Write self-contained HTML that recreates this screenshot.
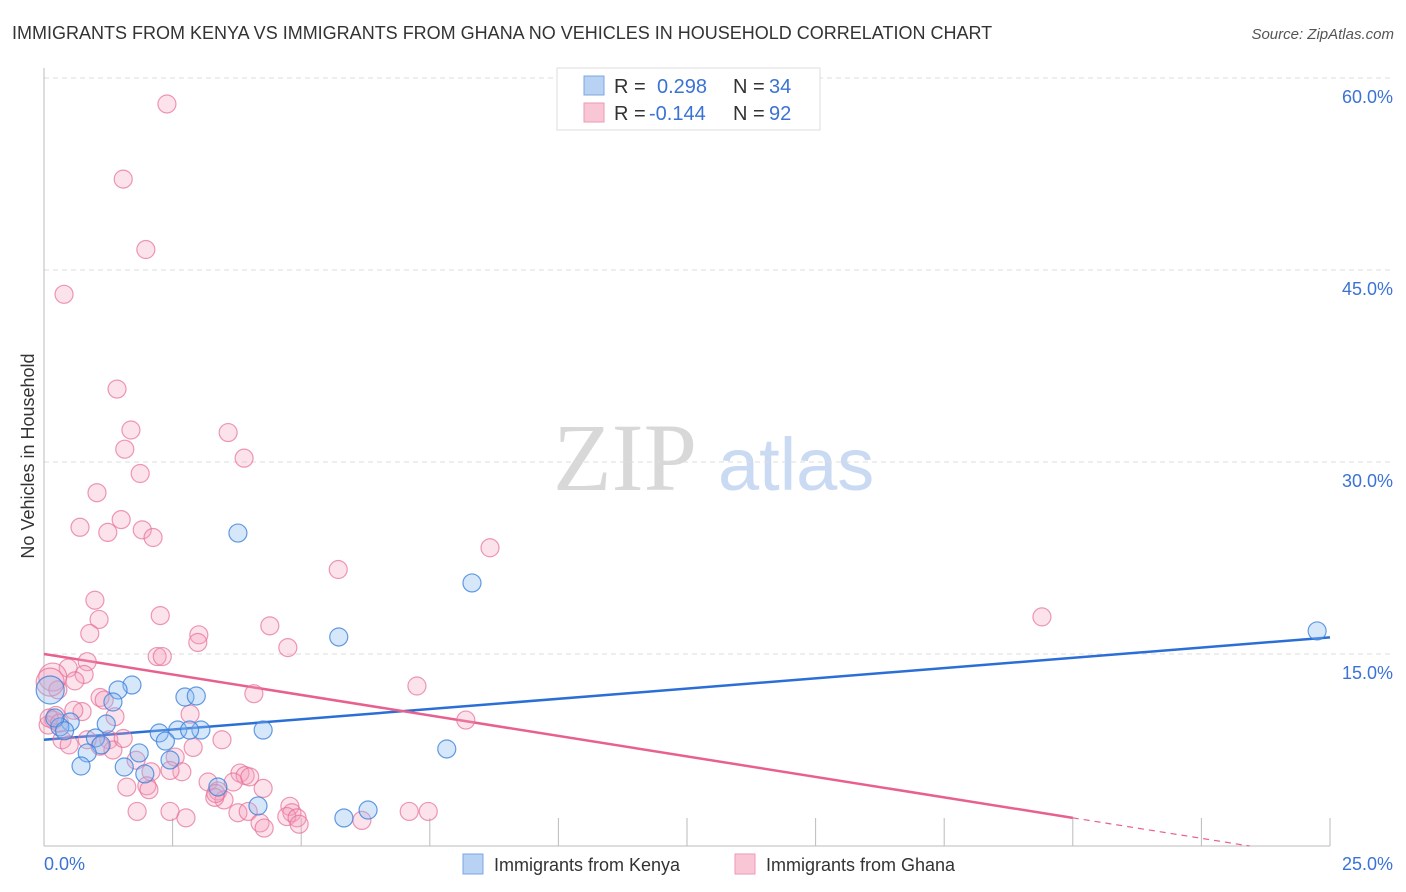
<!DOCTYPE html>
<html><head><meta charset="utf-8">
<style>
body{margin:0;background:#fff;font-family:"Liberation Sans",sans-serif;}
svg{display:block}
</style></head>
<body>
<svg id="chart" width="1406" height="892" viewBox="0 0 1406 892">
<text x="12" y="39" font-size="18" fill="#333">IMMIGRANTS FROM KENYA VS IMMIGRANTS FROM GHANA NO VEHICLES IN HOUSEHOLD CORRELATION CHART</text>
<text x="1394" y="39" font-size="15" fill="#555" font-style="italic" text-anchor="end">Source: ZipAtlas.com</text>
<text transform="translate(34,456) rotate(-90)" font-size="18" fill="#333" text-anchor="middle">No Vehicles in Household</text>
<g>
<text x="553" y="490" font-family="Liberation Serif,serif" font-size="96" fill="#d8d8d8">ZIP</text>
<text x="718" y="490" font-size="74" fill="#c9daf2">atlas</text>
</g>
<g id="grid"></g>
<g id="axes"></g>
<g id="trend"></g>
<g id="pts"></g>
<g>
<rect x="557" y="68" width="263" height="62" fill="#fff" stroke="#ddd"/>
<rect x="584" y="76" width="20" height="19" fill="#b8d2f3" stroke="#7ba7e2"/>
<rect x="584" y="103" width="20" height="19" fill="#f9c6d6" stroke="#ec9ab4"/>
<text x="614" y="93" font-size="20" fill="#333">R =</text>
<text x="657" y="93" font-size="20" fill="#3a73d4">0.298</text>
<text x="733" y="93" font-size="20" fill="#333">N =</text>
<text x="769" y="93" font-size="20" fill="#3a73d4">34</text>
<text x="614" y="120" font-size="20" fill="#333">R =</text>
<text x="649" y="120" font-size="20" fill="#3a73d4">-0.144</text>
<text x="733" y="120" font-size="20" fill="#333">N =</text>
<text x="769" y="120" font-size="20" fill="#3a73d4">92</text>
</g>
<g>
<rect x="463" y="854" width="20" height="20" fill="#b8d2f3" stroke="#7ba7e2"/>
<text x="494" y="871" font-size="18" fill="#333">Immigrants from Kenya</text>
<rect x="735" y="854" width="20" height="20" fill="#f9c6d6" stroke="#ec9ab4"/>
<text x="766" y="871" font-size="18" fill="#333">Immigrants from Ghana</text>
</g>
</svg>
<script>
const yTicks=[15,30,45,60];
const yTickLabels=["15.0%","30.0%","45.0%","60.0%"];
const xTicks=[2.5,5,7.5,10,12.5,15,17.5,20,22.5,25];
const kenyaX=[3.77,8.32,5.73,24.75,1.71,1.44,2.74,2.96,1.34,1.21,0.51,0.31,2.6,3.05,2.83,4.26,2.24,2.36,1.0,1.11,1.85,0.84,0.72,1.56,2.45,1.96,3.38,7.83,4.16,5.83,6.3,0.21,0.12,0.4];
const kenyaY=[24.45,20.55,16.33,16.8,12.58,12.19,11.64,11.72,11.25,9.53,9.69,9.3,9.06,9.06,9.06,9.06,8.83,8.2,8.44,7.9,7.27,7.27,6.25,6.17,6.72,5.63,4.61,7.58,3.13,2.19,2.81,10.0,12.19,9.0];
const ghanaX=[2.39,1.54,1.98,0.39,1.42,1.69,3.58,1.57,3.89,1.87,1.03,1.5,0.7,1.91,1.24,2.12,8.67,5.72,19.4,0.99,1.07,2.26,4.39,0.89,3.01,2.99,4.74,2.2,2.3,0.84,0.47,0.78,0.17,0.6,0.27,7.25,4.08,1.09,1.17,8.2,2.84,1.38,0.74,0.58,0.19,0.08,1.26,0.35,0.49,1.34,2.9,3.46,1.79,2.55,2.08,2.68,2.45,3.81,3.91,3.19,4.0,3.68,3.38,3.5,2.0,1.61,2.04,4.26,3.32,1.81,2.45,2.76,3.77,3.97,4.78,4.82,4.72,4.92,4.96,4.2,4.28,6.18,7.1,7.47,0.12,0.23,1.09,1.54,0.84,3.34,0.1,0.3];
const ghanaY=[57.97,52.1,46.6,43.1,35.7,32.5,32.3,31.0,30.3,29.1,27.6,25.5,24.9,24.7,24.5,24.1,23.3,21.6,17.9,19.2,17.7,18.0,17.2,16.6,16.5,15.9,15.5,14.8,14.8,14.4,13.9,13.4,13.2,12.9,12.2,12.5,11.9,11.6,11.4,9.84,10.3,10.1,10.5,10.6,9.84,9.45,8.3,8.3,7.9,7.5,7.7,8.3,6.7,6.95,5.8,5.8,5.9,5.7,5.5,5.0,5.4,5.0,4.3,3.6,4.7,4.6,4.4,4.5,3.8,2.7,2.7,2.2,2.6,2.7,3.1,2.6,2.3,2.2,1.7,1.8,1.4,2.0,2.7,2.7,12.8,10.2,7.8,8.4,8.3,4.1,10.0,9.6];
const kenyaTrend=[8.3,16.3];
const ghanaTrend=[15.0,-1.0];
const ghanaSolidEnd=20;

const NS="http://www.w3.org/2000/svg";
const X0=44,X1=1330,Y0=846,YT=78;
function xs(v){return X0+(v/25)*(X1-X0);}
function ys(v){return Y0-(v/60)*(Y0-YT);}
function mk(tag,attrs,parent){const e=document.createElementNS(NS,tag);for(const k in attrs)e.setAttribute(k,attrs[k]);parent.appendChild(e);return e;}
const grid=document.getElementById('grid'),axes=document.getElementById('axes'),trend=document.getElementById('trend'),pts=document.getElementById('pts');
yTicks.forEach((t,i)=>{
 const l=mk('line',{x1:X0,x2:1394,y1:ys(t),y2:ys(t),stroke:'#ddd','stroke-dasharray':'5,4'},grid);
 
 
 const tx=mk('text',{x:1393,y:ys(t)+25,'font-size':18,fill:'#3a73d4','text-anchor':'end'},grid);
 tx.textContent=yTickLabels[i];
 
 
});
const ya=mk('line',{x1:X0,x2:X0,y1:68,y2:Y0,stroke:'#bbb'},axes);


const xa=mk('line',{x1:X0,x2:X1,y1:Y0,y2:Y0,stroke:'#bbb'},axes);


xTicks.forEach(t=>{
 const l=mk('line',{x1:xs(t),x2:xs(t),y1:Y0-28,y2:Y0,stroke:'#bbb'},axes);
 
 
});
const xl0=mk('text',{x:44,y:870,'font-size':18,fill:'#3a73d4'},axes);xl0.textContent='0.0%';


const xl1=mk('text',{x:1393,y:870,'font-size':18,fill:'#3a73d4','text-anchor':'end'},axes);xl1.textContent='25.0%';



function dots(X,Y,fill,stroke,name){
 X.forEach((x,i)=>{
  const big=(x<0.2&&Y[i]>11.5);
  const c=mk('circle',{cx:xs(x),cy:ys(Y[i]),r:big?14:9,fill:fill,stroke:stroke,'stroke-width':1.2},pts);
  
  
 });
}
dots(ghanaX,ghanaY,'rgba(245,160,190,0.3)','rgba(230,110,150,0.7)','ghana-point');
dots(kenyaX,kenyaY,'rgba(140,185,240,0.35)','rgba(60,130,220,0.8)','kenya-point');

const kl=mk('line',{x1:xs(0),y1:ys(kenyaTrend[0]),x2:xs(25),y2:ys(kenyaTrend[1]),stroke:'#2b6fd6','stroke-width':2.5},trend);


const gv=x=>ghanaTrend[0]+(ghanaTrend[1]-ghanaTrend[0])*x/25;
const gl=mk('line',{x1:xs(0),y1:ys(gv(0)),x2:xs(ghanaSolidEnd),y2:ys(gv(ghanaSolidEnd)),stroke:'#e8608e','stroke-width':2.5},trend);


const zeroX=ghanaTrend[0]/(ghanaTrend[0]-ghanaTrend[1])*25;
const endX=Math.min(25,zeroX);
const gd=mk('line',{x1:xs(ghanaSolidEnd),y1:ys(gv(ghanaSolidEnd)),x2:xs(endX),y2:ys(gv(endX)),stroke:'#e8608e','stroke-width':1.2,'stroke-dasharray':'6,5'},trend);


</script>
</body></html>
